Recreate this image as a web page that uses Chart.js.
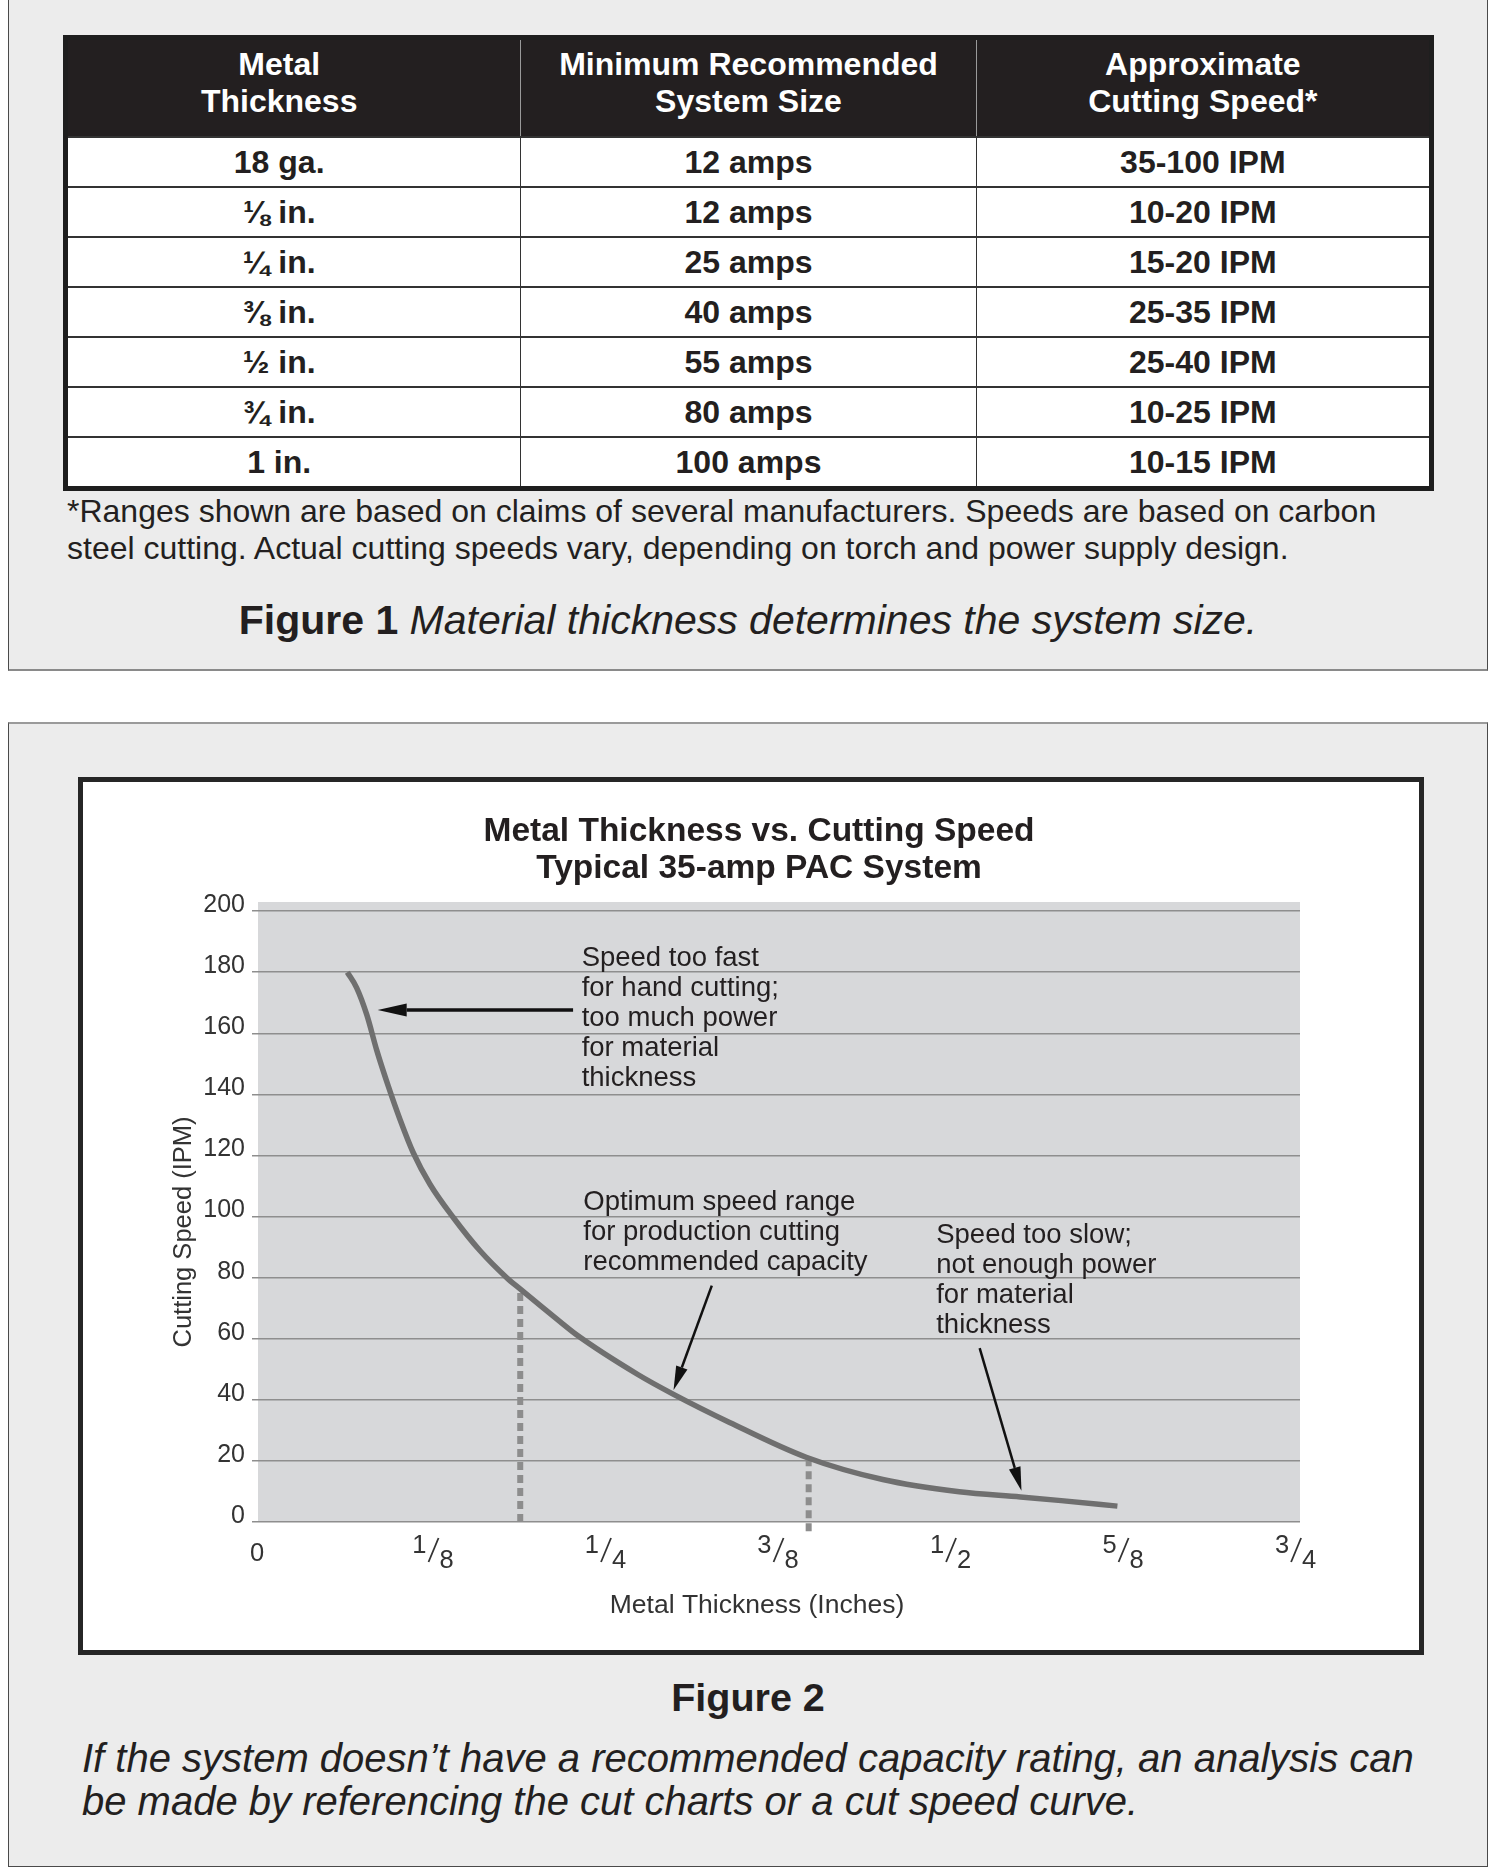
<!DOCTYPE html>
<html>
<head>
<meta charset="utf-8">
<title>Metal Thickness vs. Cutting Speed</title>
<script src="https://cdn.jsdelivr.net/npm/chart.js@4.4.1/dist/chart.umd.min.js"></script>
<style>
    body {
        margin: 0;
        width: 1494px;
        height: 1872px;
        position: relative;
        overflow: hidden;
        background: #fff;
        font-family: 'Liberation Sans', Arial, Helvetica, sans-serif;
        color: #231f20;
    }
    .panel {
        position: absolute;
        left: 8px;
        width: 1480px;
        box-sizing: border-box;
        background: #ececec;
        border: 1px solid #4a4a4a;
    }
    #panel1 { top: -4px; height: 675px; border-bottom: 2px solid #8a8a8a; }
    #panel2 { top: 722px; height: 1145px; border-top: 2px solid #9a9a9a; }

    #sizes {
        position: absolute;
        left: 63px;
        top: 35px;
        width: 1371px;
        border-collapse: collapse;
        table-layout: fixed;
        border: 5px solid #1e1e1e;
        background: #fff;
        font-size: 32px;
        font-weight: bold;
    }
    #sizes th {
        background: #231f20;
        color: #fff;
        height: 85px;
        line-height: 37px;
        padding: 0 0 11px 0;
        border-left: 1.5px solid #9a9a9a;
    }
    #sizes td {
        height: 48px;
        padding: 0;
        text-align: center;
        border-top: 2px solid #333;
        border-left: 1.5px solid #333;
    }
    #sizes th:first-child, #sizes td:first-child { border-left: none; padding-right: 30px; }

    #foot { position: absolute; left: 67px; top: 493px; font-size: 32px; line-height: 37px; }
    #fig1 { position: absolute; left: 8px; width: 1480px; top: 597px; text-align: center; font-size: 41px; line-height: 46px; }
    #fig2 { position: absolute; left: 8px; width: 1480px; top: 1674px; text-align: center; font-size: 39.5px; line-height: 46px; font-weight: bold; }
    #cap2 { position: absolute; left: 82px; top: 1737px; font-size: 40px; line-height: 43px; font-style: italic; }

    #chartBox {
        position: absolute;
        left: 78px;
        top: 777px;
        width: 1346px;
        height: 878px;
        box-sizing: border-box;
        border: 5px solid #262626;
        background: #fff;
    }
    #speedChart { position: absolute; left: 83px; top: 782px; }
</style>
</head>
<body>
<div class="panel" id="panel1"></div>
<div class="panel" id="panel2"></div>

<table id="sizes">
    <thead>
        <tr><th>Metal<br>Thickness</th><th>Minimum Recommended<br>System Size</th><th>Approximate<br>Cutting Speed*</th></tr>
    </thead>
    <tbody id="sizeRows"></tbody>
</table>
<div id="foot">*Ranges shown are based on claims of several manufacturers. Speeds are based on carbon<br>steel cutting. Actual cutting speeds vary, depending on torch and power supply design.</div>
<div id="fig1"><b>Figure 1</b> <i>Material thickness determines the system size.</i></div>

<div id="chartBox"></div>
<canvas id="speedChart" width="1336" height="868"></canvas>
<div id="fig2">Figure 2</div>
<div id="cap2">If the system doesn’t have a recommended capacity rating, an analysis can<br>be made by referencing the cut charts or a cut speed curve.</div>

<script>
// Figure 1 table
const metalThickness = ['18 ga.', '⅛ in.', '¼ in.', '⅜ in.', '½ in.', '¾ in.', '1 in.'];
const systemSize = ['12 amps', '12 amps', '25 amps', '40 amps', '55 amps', '80 amps', '100 amps'];
const cuttingSpeed = ['35-100 IPM', '10-20 IPM', '15-20 IPM', '25-35 IPM', '25-40 IPM', '10-25 IPM', '10-15 IPM'];

// Figure 2 curve (inches, IPM)
const thicknessIn = [0.0647, 0.0715, 0.0788, 0.0860, 0.0944, 0.1029, 0.1125, 0.1246, 0.1415, 0.1609, 0.1802, 0.1899,
    0.2188, 0.2308, 0.2752, 0.3011, 0.3417, 0.3972, 0.4527, 0.5081, 0.5525, 0.5820, 0.6227];
const speedIpm = [180.0, 174.9, 166.1, 154.5, 142.7, 131.8, 120.9, 110.6, 99.7, 88.8, 80.0, 76.3,
    65.6, 61.3, 48.3, 41.8, 32.6, 21.2, 13.9, 9.9, 8.2, 7.0, 5.2];

// Dashed guides bounding the recommended range
const rangeThickness = [0.190, 0.399];
const rangeTop = [76.3, 20.8];
const rangeBottom = [0, -3];

// Axis ticks
const xTickValues = [0, 0.125, 0.25, 0.375, 0.5, 0.625, 0.75];
const xTickLabels = ['0', '1/8', '1/4', '3/8', '1/2', '5/8', '3/4'];
const yTickValues = [0, 20, 40, 60, 80, 100, 120, 140, 160, 180, 200];

const chartTitle = ['Metal Thickness vs. Cutting Speed', 'Typical 35-amp PAC System'];
const xTitle = 'Metal Thickness (Inches)';
const yTitle = 'Cutting Speed (IPM)';

// Callouts, anchored in data units
const noteLines = [
    ['Speed too fast', 'for hand cutting;', 'too much power', 'for material', 'thickness'],
    ['Optimum speed range', 'for production cutting', 'recommended capacity'],
    ['Speed too slow;', 'not enough power', 'for material', 'thickness']
];
const noteX = [0.2345, 0.2357, 0.4914];
const noteY = [182.1, 102.0, 91.3];
const arrowFrom = [[0.2283, 167.6], [0.3288, 77.4], [0.5229, 56.9]];
const arrowTo = [[0.0867, 167.6], [0.3011, 43.2], [0.5532, 10.2]];

const FONT = "'Liberation Sans', Arial, Helvetica, sans-serif";

document.addEventListener('DOMContentLoaded', () => {
    buildTable();
    buildChart();
});

// Fill table body
function buildTable() {
    const body = document.getElementById('sizeRows');
    metalThickness.forEach((m, i) => {
        const tr = document.createElement('tr');
        [m, systemSize[i], cuttingSpeed[i]].forEach(text => {
            const td = document.createElement('td');
            td.textContent = text;
            tr.appendChild(td);
        });
        body.appendChild(tr);
    });
}

// Arrow with filled head
function drawArrow(ctx, x1, y1, x2, y2, width, headLen, headHalf) {
    const ang = Math.atan2(y2 - y1, x2 - x1);
    const bx = x2 - headLen * Math.cos(ang);
    const by = y2 - headLen * Math.sin(ang);
    ctx.lineWidth = width;
    ctx.beginPath();
    ctx.moveTo(x1, y1);
    ctx.lineTo(bx, by);
    ctx.stroke();
    ctx.beginPath();
    ctx.moveTo(x2, y2);
    ctx.lineTo(bx + headHalf * Math.sin(ang), by - headHalf * Math.cos(ang));
    ctx.lineTo(bx - headHalf * Math.sin(ang), by + headHalf * Math.cos(ang));
    ctx.closePath();
    ctx.fill();
}

// Background, titles, fraction ticks and callouts
const figureDecor = {
    id: 'figureDecor',
    beforeDraw(chart) {
        const {ctx, chartArea: a} = chart;
        ctx.save();
        ctx.fillStyle = '#d7d8da';
        ctx.fillRect(a.left, a.top, a.right - a.left, a.bottom - a.top);
        ctx.restore();
    },
    afterDraw(chart) {
        const {ctx, chartArea: a, scales: {x, y}} = chart;
        ctx.save();

        // title
        ctx.fillStyle = '#231f20';
        ctx.font = `bold 33.5px ${FONT}`;
        ctx.textAlign = 'center';
        ctx.textBaseline = 'middle';
        chartTitle.forEach((t, i) => ctx.fillText(t, 676, 50 + i * 37));

        // axis titles
        ctx.fillStyle = '#333';
        ctx.font = `26.5px ${FONT}`;
        ctx.fillText(xTitle, 674, 824);
        ctx.font = `25.5px ${FONT}`;
        ctx.save();
        ctx.translate(101, 450);
        ctx.rotate(-Math.PI / 2);
        ctx.fillText(yTitle, 0, 0);
        ctx.restore();

        // x tick labels as stacked fractions
        ctx.font = `25.5px ${FONT}`;
        ctx.textBaseline = 'alphabetic';
        ctx.strokeStyle = '#333';
        ctx.lineWidth = 1.8;
        x.ticks.forEach((t, i) => {
            const px = x.getPixelForValue(t.value);
            const base = a.bottom;
            const [num, den] = xTickLabels[i].split('/');
            if (!den) {
                ctx.textAlign = 'center';
                ctx.fillText(num, px - 1, base + 39);
                return;
            }
            ctx.textAlign = 'right';
            ctx.fillText(num, px - 4, base + 31);
            ctx.textAlign = 'left';
            ctx.fillText(den, px + 9, base + 46);
            ctx.beginPath();
            ctx.moveTo(px - 2, base + 40);
            ctx.lineTo(px + 8, base + 16);
            ctx.stroke();
        });

        // callout text
        ctx.fillStyle = '#231f20';
        ctx.font = `27.5px ${FONT}`;
        ctx.textAlign = 'left';
        noteLines.forEach((lines, n) => {
            const nx = x.getPixelForValue(noteX[n]);
            const ny = y.getPixelForValue(noteY[n]);
            lines.forEach((line, i) => ctx.fillText(line, nx, ny + i * 30));
        });

        // callout arrows
        ctx.fillStyle = '#111';
        ctx.strokeStyle = '#111';
        const widths = [3.5, 2.5, 2.5];
        arrowFrom.forEach((from, n) => {
            drawArrow(ctx,
                x.getPixelForValue(from[0]), y.getPixelForValue(from[1]),
                x.getPixelForValue(arrowTo[n][0]), y.getPixelForValue(arrowTo[n][1]),
                widths[n], n === 0 ? 29 : 24, n === 0 ? 6.5 : 6);
        });

        ctx.restore();
    }
};

// Build chart
function buildChart() {
    const datasets = [{
        data: thicknessIn.map((t, i) => ({x: t, y: speedIpm[i]})),
        borderColor: '#6f6f6f',
        borderWidth: 5.5,
        pointRadius: 0,
        tension: 0.4,
        cubicInterpolationMode: 'monotone'
    }];
    rangeThickness.forEach((t, i) => {
        datasets.push({
            data: [{x: t, y: rangeBottom[i]}, {x: t, y: rangeTop[i]}],
            borderColor: '#8d8d8d',
            borderWidth: 6,
            borderDash: [8, 5],
            borderCapStyle: 'butt',
            pointRadius: 0,
            clip: false
        });
    });

    new Chart(document.getElementById('speedChart'), {
        type: 'line',
        data: {datasets},
        options: {
            responsive: false,
            animation: false,
            devicePixelRatio: 1,
            layout: {padding: {top: 120, right: 119, bottom: 0, left: 0}},
            plugins: {
                legend: {display: false},
                tooltip: {enabled: false},
                title: {display: false}
            },
            scales: {
                x: {
                    type: 'linear',
                    min: 0,
                    max: 0.755,
                    afterFit: s => { s.height = 128; },
                    afterBuildTicks: s => { s.ticks = xTickValues.map(v => ({value: v})); },
                    ticks: {display: false},
                    grid: {display: false},
                    border: {display: false}
                },
                y: {
                    type: 'linear',
                    min: 0,
                    max: 203,
                    afterFit: s => { s.width = 175; },
                    afterBuildTicks: s => { s.ticks = yTickValues.map(v => ({value: v})); },
                    ticks: {
                        color: '#333',
                        font: {family: FONT, size: 25},
                        padding: 7,
                        labelOffset: -6
                    },
                    grid: {color: '#8e8e8e', lineWidth: 1.5, tickLength: 6, drawTicks: true},
                    border: {display: false}
                }
            }
        },
        plugins: [figureDecor]
    });
}
</script>
</body>
</html>
